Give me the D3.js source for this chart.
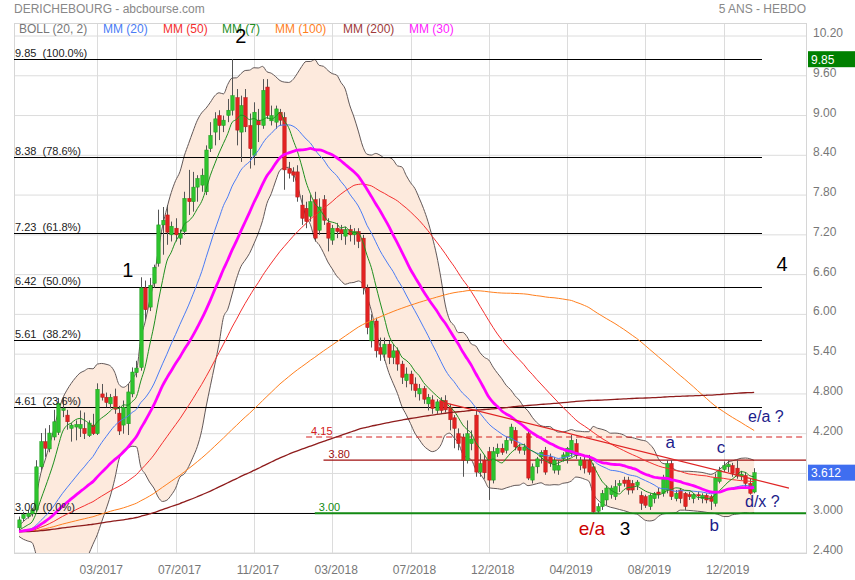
<!DOCTYPE html>
<html><head><meta charset="utf-8">
<script src="https://cdn.jsdelivr.net/npm/d3@7"></script>
<style>
body{margin:0;background:#fff;}
svg text{font-family:Arial,"Liberation Sans",sans-serif;}
</style>
</head><body>
<svg id="chart" width="855" height="580"></svg>
<script>
// ---- weekly OHLC ----
const opens = [2.78,2.92,2.95,2.99,3.05,3.70,4.08,3.97,4.15,4.22,4.55,4.48,4.28,4.30,4.28,4.28,4.17,4.33,4.20,4.80,
4.75,4.65,4.76,4.51,4.33,4.35,4.80,5.12,5.20,6.40,6.11,6.47,6.77,7.35,7.50,7.20,7.30,7.15,7.25,7.75,
7.70,7.92,7.95,7.85,8.50,8.75,9.00,8.85,9.00,9.08,9.27,8.75,9.27,8.85,8.40,8.93,8.85,9.43,8.92,8.90,
9.05,8.97,8.20,8.15,8.15,7.65,7.60,7.48,7.73,7.27,7.73,7.38,7.12,7.30,7.28,7.18,7.28,7.20,7.25,7.15,
6.40,5.60,5.90,5.50,5.40,5.55,5.35,5.45,5.25,5.00,5.10,4.95,4.80,4.88,4.65,4.71,4.55,4.70,4.70,4.60,
4.44,4.20,4.15,3.80,4.05,4.48,3.62,3.80,3.93,3.50,3.90,3.98,3.95,4.10,4.25,4.00,3.95,4.20,3.50,3.70,
3.85,3.95,3.85,3.65,3.65,3.82,3.85,3.90,4.05,3.72,3.80,3.80,3.70,3.03,3.10,3.20,3.28,3.25,3.42,3.50,
3.50,3.45,3.42,3.27,3.25,3.10,3.22,3.32,3.30,3.35,3.75,3.22,3.35,3.30,3.28,3.22,3.28,3.22,3.27,3.25,
3.15,3.48,3.66,3.70,3.72,3.68,3.56,3.57,3.45,3.32];
const highs = [2.95,3.02,3.05,3.08,3.80,4.21,4.28,4.33,4.56,4.74,4.75,4.56,4.36,4.40,4.55,4.52,4.40,4.50,4.96,4.95,
4.82,4.80,4.88,4.62,4.70,4.95,5.20,5.30,6.56,6.51,6.55,6.75,7.58,7.62,7.65,7.40,7.45,7.28,7.85,8.18,
8.15,8.10,8.20,8.55,8.90,9.05,9.08,9.00,9.25,9.85,9.40,9.30,9.40,9.03,9.20,9.10,9.55,9.55,9.15,9.15,
9.10,9.05,8.30,8.22,8.25,7.80,7.70,7.80,7.85,7.75,7.80,7.45,7.35,7.38,7.35,7.32,7.35,7.30,7.30,7.20,
6.45,6.00,5.95,5.65,5.65,5.60,5.55,5.50,5.30,5.20,5.15,5.05,4.95,4.92,4.80,4.78,4.72,4.75,4.78,4.65,
4.48,4.28,4.20,4.40,4.25,4.55,3.90,3.88,4.00,4.00,4.05,4.05,4.15,4.35,4.30,4.05,4.05,4.25,3.75,3.85,
3.95,4.00,3.90,3.85,3.80,3.92,4.00,4.18,4.12,3.85,3.85,3.88,3.75,3.15,3.35,3.42,3.42,3.50,3.50,3.55,
3.55,3.50,3.50,3.33,3.28,3.30,3.32,3.38,3.58,3.80,3.80,3.35,3.38,3.32,3.32,3.30,3.32,3.30,3.30,3.28,
3.60,3.70,3.78,3.80,3.76,3.80,3.64,3.62,3.52,3.68];
const lows = [2.72,2.88,2.92,2.95,3.02,3.65,3.85,3.92,4.10,4.18,4.45,4.26,4.08,4.10,4.15,4.12,4.15,4.18,4.18,4.70,
4.60,4.58,4.50,4.18,4.20,4.18,4.75,5.05,5.15,5.92,6.05,6.40,6.72,6.90,7.05,7.10,7.10,7.05,7.20,7.50,
7.55,7.70,7.85,7.80,8.45,8.55,8.63,8.75,8.90,9.00,8.55,8.30,8.75,8.20,8.25,8.60,8.80,8.95,8.85,8.80,
8.85,7.88,8.05,8.00,7.70,7.35,7.30,7.40,7.10,7.20,7.35,6.95,7.05,7.15,7.12,7.05,7.10,7.05,7.00,6.30,
5.70,5.50,5.35,5.30,5.30,5.25,5.25,5.15,4.95,4.90,4.85,4.75,4.70,4.65,4.55,4.50,4.50,4.50,4.52,4.25,
3.98,3.95,3.55,3.75,3.95,3.55,3.55,3.52,3.20,3.45,3.85,3.88,3.90,4.05,3.95,3.90,3.88,3.50,3.45,3.60,
3.75,3.58,3.70,3.60,3.58,3.78,3.75,3.85,3.82,3.65,3.60,3.58,3.00,3.00,3.05,3.12,3.22,3.20,3.32,3.40,
3.28,3.30,3.35,3.05,3.08,3.05,3.15,3.22,3.25,3.30,3.20,3.18,3.15,3.05,3.20,3.15,3.20,3.15,3.15,3.05,
3.10,3.45,3.62,3.62,3.55,3.52,3.50,3.40,3.28,3.30];
const closes = [2.90,2.98,3.00,3.05,3.70,4.08,3.98,4.21,4.38,4.66,4.58,4.38,4.33,4.34,4.34,4.20,4.36,4.20,4.87,4.75,
4.67,4.75,4.57,4.24,4.60,4.83,5.13,5.19,6.40,6.07,6.44,6.71,7.35,7.42,7.24,7.33,7.20,7.22,7.75,7.70,
7.92,8.05,8.10,8.48,8.70,8.95,8.85,8.93,9.08,9.30,8.78,9.15,8.83,8.50,9.05,8.86,9.38,9.00,9.00,9.10,
8.93,8.18,8.13,8.10,7.77,7.45,7.40,7.70,7.15,7.62,7.42,7.15,7.30,7.25,7.22,7.28,7.20,7.25,7.10,6.40,
5.80,5.90,5.45,5.40,5.55,5.35,5.45,5.25,5.05,5.10,4.95,4.85,4.88,4.72,4.75,4.58,4.68,4.55,4.56,4.41,
4.28,4.05,3.80,4.20,4.12,3.62,3.75,3.61,3.50,3.93,3.98,3.92,4.10,4.30,4.00,3.95,4.00,3.53,3.70,3.82,
3.92,3.62,3.75,3.80,3.72,3.88,3.98,4.10,3.87,3.80,3.68,3.62,3.02,3.10,3.30,3.38,3.38,3.40,3.45,3.45,
3.35,3.35,3.47,3.15,3.12,3.27,3.30,3.28,3.53,3.75,3.25,3.30,3.22,3.10,3.25,3.28,3.26,3.27,3.20,3.18,
3.53,3.65,3.72,3.74,3.60,3.56,3.59,3.45,3.30,3.612];
// estimated average weekly close before the first visible week (seeds the moving averages)
const priorAvgClose = 2.72;

// ---- axes ----
const xTickIdx = [18,36,54,72,90,108,126,144,162];
const xTickLabels = ["03/2017","07/2017","11/2017","03/2018","07/2018","12/2018","04/2019","08/2019","12/2019"];
const yTicks = [10.2,9.6,9.0,8.4,7.8,7.2,6.6,6.0,5.4,4.8,4.2,3.6,3.0,2.4];
const yTickLabels = ["10.20","9.60","9.00","8.40","7.80","7.20","6.60","6.00","5.40","4.800","4.200","3.600","3.000","2.400"];

// ---- fibonacci retracement and drawn levels ----
const fibLevels = [9.85,8.38,7.23,6.42,5.61,4.61,3.00];
const fibPct = ["100.0%","78.6%","61.8%","50.0%","38.2%","23.6%","0.0%"];
const levelValues = [4.15,3.80,3.00];
const levelStartIdx = [66,70,68];
const levelColors = ["#d42020","#a01010","#138a13"];
const levelDash = ["6,4",null,null];
const trendIdx = [97,177];
const trendVal = [4.68,3.38];

// ---- indicators ----
const legendNames = ["BOLL (20, 2)","MM (20)","MM (50)","MM (7)","MM (100)","MM (200)","MM (30)"];
const legendColors = ["#777","#4a7cf5","#f53030","#1f8f1f","#ff7f1e","#a03a3a","#ff22ff"];
const maPeriods = [20,50,7,100,200,30];
const maColors = ["#4a7cf5","#f53030","#1f8f1f","#ff7f1e","#8e1c1c","#ff00ff"];
const maWidths = [1,1,1,1,1.3,2.8];

// ---- wave annotations ----
const annText = ["1","2","4","3","e/a","a","c","b","d/x ?","e/a ?"];
const annIdx = [25.0,51.0,175.4,139.3,131.7,149.7,161.4,159.8,166.9,167.6];
const annVal = [6.56,10.09,6.65,2.67,2.67,3.98,3.91,2.73,3.09,4.38];
const annColor = ["#000","#000","#000","#000","#cc0000","#1c1c8a","#1c1c8a","#1c1c8a","#1c1c8a","#1c1c8a"];
const annSize = [20,20,20,19,19,17,17,17,16,16];
const annAnchor = ["middle","middle","middle","middle","middle","middle","middle","middle","start","start"];

const lastPrice = 3.612;

// ================= drawing =================
const svg = d3.select("#chart");
const L = 14, R = 806, T = 23, B = 553;
const n = closes.length;
const x = d3.scaleLinear().domain([-1.15, 180.92]).range([L, R]);
const y = d3.scaleLinear().domain([2.4, 10.2]).range([B, 36]);

svg.append("defs").append("clipPath").attr("id","plot")
  .append("rect").attr("x",L).attr("y",T).attr("width",R-L).attr("height",B-T);

// title
svg.append("text").attr("x",14).attr("y",13).attr("font-size",12).attr("fill","#888")
  .text("DERICHEBOURG - abcbourse.com");
svg.append("text").attr("x",806).attr("y",13).attr("font-size",12).attr("fill","#888")
  .attr("text-anchor","end").text("5 ANS - HEBDO");

// grid
const grid = svg.append("g");
grid.selectAll(".hg").data(yTicks).join("line")
  .attr("x1",L).attr("x2",R).attr("y1",d=>y(d)).attr("y2",d=>y(d))
  .attr("stroke","#dcdcdc").attr("stroke-width",1);
grid.selectAll(".vg").data(xTickIdx).join("line")
  .attr("x1",d=>Math.round(x(d))+0.5).attr("x2",d=>Math.round(x(d))+0.5).attr("y1",T).attr("y2",B)
  .attr("stroke","#dcdcdc").attr("stroke-width",1);
svg.append("rect").attr("x",L+0.5).attr("y",T+0.5).attr("width",R-L).attr("height",B-T)
  .attr("fill","none").attr("stroke","#d6d6d6");

// axis labels (a label hidden behind the last-price box is not drawn)
const boxedValues = [9.85, lastPrice];
svg.selectAll(".yl").data(yTicks.filter(d=>!boxedValues.some(b=>Math.abs(y(b)-y(d))<7)))
  .join("text")
  .attr("x",813).attr("y",d=>y(d)+1).attr("font-size",12).attr("fill","#777")
  .text(d=>yTickLabels[yTicks.indexOf(d)]);
svg.selectAll(".xl").data(xTickIdx).join("text")
  .attr("x",d=>x(d)+4).attr("y",574).attr("font-size",12).attr("fill","#777")
  .attr("text-anchor","middle").text((d,i)=>xTickLabels[i]);

// legend
let lx = [19,103,163,222,275,343,409];
legendNames.forEach((t,i)=>{
  svg.append("text").attr("x",lx[i]).attr("y",33).attr("font-size",12)
    .attr("fill",legendColors[i]).text(t);
});

// indicator math
const valAt = k => k < 0 ? priorAvgClose : closes[k];
function sma(p){ return closes.map((c,i)=>{ let s=0; for(let k=i-p+1;k<=i;k++) s+=valAt(k); return s/p; }); }
const mid20 = sma(20);
const sd20 = closes.map((c,i)=>{ let s=0; for(let k=i-19;k<=i;k++){ const dv=valAt(k)-mid20[i]; s+=dv*dv;} return Math.sqrt(s/20); });
const upper = mid20.map((m,i)=>m+2*sd20[i]);
const lower = mid20.map((m,i)=>m-2*sd20[i]);

const plot = svg.append("g").attr("clip-path","url(#plot)");

// Bollinger band
plot.append("path").datum(d3.range(n))
  .attr("d", d3.area().x(i=>x(i)).y0(i=>y(lower[i])).y1(i=>y(upper[i])).curve(d3.curveMonotoneX))
  .attr("fill","#fdeadd");
[upper,lower].forEach(b=>{
  plot.append("path").datum(b)
    .attr("d", d3.line().x((d,i)=>x(i)).y(d=>y(d)).curve(d3.curveMonotoneX))
    .attr("fill","none").attr("stroke","#625858").attr("stroke-width",1);
});

// fib lines
fibLevels.forEach((v,i)=>{
  plot.append("line").attr("x1",L).attr("x2",x(n+0.8)).attr("y1",Math.round(y(v))+0.5).attr("y2",Math.round(y(v))+0.5)
    .attr("stroke","#000").attr("stroke-width",1.2);
  svg.append("text").attr("x",15).attr("y",y(v)-2).attr("font-size",11).attr("fill","#222")
    .attr("xml:space","preserve").text(v.toFixed(2)+"  ("+fibPct[i]+")");
});

// drawn horizontal levels
levelValues.forEach((v,i)=>{
  plot.append("line").attr("x1",x(levelStartIdx[i])).attr("x2",R).attr("y1",y(v)).attr("y2",y(v))
    .attr("stroke",levelColors[i]).attr("stroke-width", i===2?2:1.2)
    .attr("stroke-dasharray",levelDash[i]);
  svg.append("text").attr("x",x(levelStartIdx[i])+ (i===2?4:5)).attr("y",y(v)-2.5)
    .attr("font-size",11).attr("fill",levelColors[i]).text(v.toFixed(2));
});

// candles
const cw = 3.4;
const cg = plot.append("g");
d3.range(n).forEach(i=>{
  const up = closes[i] >= opens[i];
  const cx = Math.round(x(i))+0.5;
  cg.append("line").attr("x1",cx).attr("x2",cx).attr("y1",y(highs[i])).attr("y2",y(lows[i]))
    .attr("stroke","#555").attr("stroke-width",1);
  const top = y(Math.max(opens[i],closes[i])), bot = y(Math.min(opens[i],closes[i]));
  cg.append("rect").attr("x",cx-cw/2).attr("y",top).attr("width",cw).attr("height",Math.max(1.2,bot-top))
    .attr("fill", up ? "#2ec42e" : "#e32222").attr("stroke", up ? "#1a9a1a" : "#b51818").attr("stroke-width",0.5);
});

// moving averages (MM30 last, on top)
maPeriods.forEach((p,j)=>{
  const m = sma(p);
  plot.append("path").datum(m)
    .attr("d", d3.line().x((d,i)=>x(i)).y(d=>y(d)).curve(d3.curveMonotoneX))
    .attr("fill","none").attr("stroke",maColors[j]).attr("stroke-width",maWidths[j]);
});

// trend line
plot.append("line").attr("x1",x(trendIdx[0])).attr("y1",y(trendVal[0]))
  .attr("x2",x(trendIdx[1])).attr("y2",y(trendVal[1]))
  .attr("stroke","#e02424").attr("stroke-width",1.2);

// annotations
annText.forEach((t,i)=>{
  svg.append("text").attr("x",x(annIdx[i])).attr("y",y(annVal[i]))
    .attr("font-size",annSize[i]).attr("fill",annColor[i]).attr("text-anchor",annAnchor[i]).text(t);
});

// price boxes on the axis
function priceBox(v, txt, col){
  const yy = y(v);
  svg.append("rect").attr("x",808).attr("y",yy-8).attr("width",47).attr("height",16).attr("fill",col);
  svg.append("text").attr("x",811).attr("y",yy+4.5).attr("font-size",12).attr("fill","#fff").text(txt);
}
priceBox(fibLevels[0], fibLevels[0].toFixed(2), "#008000");
priceBox(lastPrice, lastPrice.toFixed(3), "#3f6ef0");
</script>
</body></html>
